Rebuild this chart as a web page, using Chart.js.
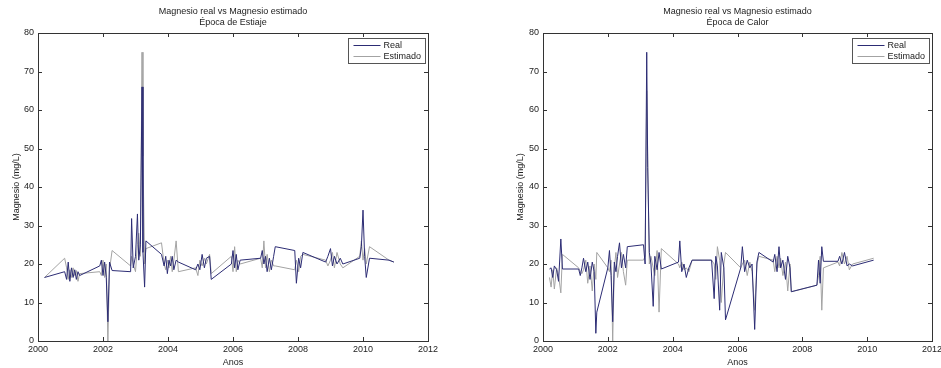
<!DOCTYPE html>
<html>
<head>
<meta charset="utf-8">
<script src="https://cdn.jsdelivr.net/npm/chart.js@4.4.1/dist/chart.umd.min.js"></script>
<style>
  html, body { margin: 0; padding: 0; background: #fff; overflow: hidden; }
  #wrap { position: relative; width: 941px; height: 368px; overflow: hidden; }
  canvas { position: absolute; top: 0; }
</style>
</head>
<body>
<div id="wrap">
  <canvas id="c1" width="470" height="368" style="left:0"></canvas>
  <canvas id="c2" width="500" height="368" style="left:470px"></canvas>
</div>
<script>
// Época de Estiaje
const estiajeAnos = [2000.20, 2000.82, 2000.88, 2000.93, 2000.98, 2001.03, 2001.08, 2001.13, 2001.18, 2001.23,
  2001.28, 2001.90, 2001.95, 2002.00, 2002.05, 2002.10, 2002.15, 2002.20, 2002.28, 2002.85,
  2002.88, 2002.93, 2003.00, 2003.06, 2003.10, 2003.15, 2003.20, 2003.23, 2003.28, 2003.32,
  2003.80, 2003.88, 2003.93, 2003.98, 2004.03, 2004.08, 2004.13, 2004.18, 2004.25, 2004.32,
  2004.85, 2004.92, 2004.98, 2005.05, 2005.12, 2005.18, 2005.28, 2005.33, 2005.95, 2006.00,
  2006.05, 2006.10, 2006.15, 2006.22, 2006.85, 2006.90, 2006.95, 2007.00, 2007.05, 2007.12,
  2007.18, 2007.25, 2007.30, 2007.90, 2007.95, 2008.02, 2008.08, 2008.15, 2008.85, 2008.92,
  2009.00, 2009.06, 2009.12, 2009.20, 2009.30, 2009.38, 2009.90, 2009.95, 2010.00, 2010.05,
  2010.10, 2010.20, 2010.80, 2010.95];
const estiajeReal = [16.5, 18.0, 16.0, 20.5, 15.5, 19.0, 16.5, 18.5, 16.0, 18.0,
  17.0, 19.5, 21.0, 17.0, 20.5, 16.5, 5.0, 20.5, 18.3, 18.0,
  31.8, 19.0, 22.0, 33.0, 21.0, 25.0, 66.0, 23.0, 14.0, 26.0,
  22.5, 19.5, 22.0, 17.5, 21.0, 19.5, 22.0, 18.5, 21.0, 20.5,
  18.5, 20.0, 18.5, 22.5, 19.0, 21.5, 22.0, 16.0, 20.0, 23.5,
  19.0, 22.5, 18.5, 21.0, 21.5, 23.5, 20.0, 22.0, 18.0, 21.5,
  18.5, 22.0, 24.5, 23.5, 15.0, 21.5, 19.0, 23.0, 20.5, 22.0,
  24.0, 19.5, 22.0, 20.0, 21.5, 20.0, 21.5, 24.5, 34.0, 22.0,
  16.5, 21.5, 21.0, 20.5];
const estiajeEstimado = [16.5, 21.5, 19.0, 16.0, 18.5, 16.5, 19.0, 17.0, 18.3, 15.5,
  17.5, 18.0, 17.0, 21.0, 16.5, 20.0, 0.0, 18.5, 23.5, 19.5,
  22.0, 20.0, 18.0, 25.0, 28.0, 22.0, 75.0, 48.0, 20.0, 24.0,
  25.5, 20.0, 18.5, 21.0, 19.0, 22.0, 18.0, 21.0, 26.0, 18.0,
  19.0, 17.0, 21.0, 19.5, 21.5, 20.0, 22.5, 17.5, 22.0, 18.0,
  24.5, 18.0, 21.0, 20.0, 21.5, 19.0, 26.0, 19.0, 22.5, 18.0,
  21.0, 19.5, 19.5, 18.5, 21.0, 18.0, 22.0, 22.5, 21.0, 19.5,
  21.0, 23.0, 19.0, 23.0, 20.0, 19.0, 22.0, 26.0, 21.0, 24.0,
  20.0, 24.5, 21.0, 20.5];

// Época de Calor
const calorAnos = [2000.20, 2000.25, 2000.30, 2000.35, 2000.42, 2000.48, 2000.55, 2000.60, 2001.10, 2001.15,
  2001.20, 2001.25, 2001.32, 2001.38, 2001.45, 2001.52, 2001.58, 2001.63, 2001.66, 2002.00,
  2002.05, 2002.10, 2002.15, 2002.20, 2002.25, 2002.30, 2002.36, 2002.42, 2002.48, 2002.55,
  2002.60, 2003.10, 2003.15, 2003.20, 2003.23, 2003.28, 2003.33, 2003.40, 2003.45, 2003.52,
  2003.58, 2003.65, 2004.18, 2004.22, 2004.28, 2004.35, 2004.42, 2004.50, 2004.60, 2005.20,
  2005.28, 2005.33, 2005.38, 2005.45, 2005.50, 2005.58, 2005.63, 2006.10, 2006.15, 2006.22,
  2006.30, 2006.38, 2006.45, 2006.53, 2006.60, 2006.66, 2007.10, 2007.15, 2007.22, 2007.28,
  2007.33, 2007.40, 2007.48, 2007.55, 2007.62, 2007.66, 2008.45, 2008.50, 2008.55, 2008.60,
  2008.65, 2009.10, 2009.15, 2009.22, 2009.30, 2009.38, 2009.45, 2009.55, 2010.20];
const calorReal = [18.7, 19.0, 16.5, 19.5, 18.5, 15.5, 26.5, 18.7, 18.7, 17.0,
  19.0, 21.5, 18.0, 20.5, 16.0, 20.5, 18.0, 2.0, 7.5, 19.0,
  23.5, 17.0, 5.0, 20.5, 18.0, 22.0, 25.5, 19.0, 22.5, 19.0,
  24.5, 25.0, 20.0, 75.0, 45.0, 23.0, 20.0, 9.0, 22.0, 18.5,
  23.0, 18.7, 20.5, 26.0, 18.0, 20.0, 16.5, 19.0, 21.0, 21.0,
  11.0, 22.0, 19.5, 8.0, 23.0, 19.0, 5.5, 19.0, 24.5, 18.0,
  21.0, 19.0, 20.0, 3.0, 20.5, 23.0, 20.5, 22.5, 18.0, 24.5,
  19.0, 21.0, 16.0, 22.0, 19.0, 12.8, 14.5, 21.0, 15.0, 24.5,
  20.7, 20.7, 22.0, 20.0, 23.0, 19.5, 20.0, 19.5, 21.0];
const calorEstimado = [16.5, 14.0, 18.5, 13.5, 19.0, 17.0, 12.5, 22.5, 19.0, 18.0,
  17.5, 18.5, 21.0, 15.0, 19.5, 13.0, 20.0, 16.0, 23.0, 19.0,
  18.0, 21.0, 0.0, 19.0, 23.0, 16.5, 20.0, 23.0, 18.0, 14.5,
  21.0, 21.0, 22.0, 65.0, 48.0, 20.0, 22.0, 19.0, 17.0, 23.5,
  7.5, 24.0, 20.0, 19.0, 20.5, 18.5, 19.0, 18.0, 21.0, 21.0,
  20.0, 16.0, 24.5, 21.0, 10.0, 20.0, 23.0, 19.0, 20.0, 21.0,
  17.0, 20.5, 18.0, 8.0, 20.0, 22.0, 21.0, 18.0, 22.0, 19.0,
  21.5, 17.0, 20.5, 13.0, 20.0, 12.8, 14.5, 17.0, 22.0, 8.0,
  19.0, 20.5, 19.5, 23.0, 20.0, 22.0, 18.5, 20.0, 21.5];

const xTicks = [2000, 2002, 2004, 2006, 2008, 2010, 2012];
const yTicks = [0, 10, 20, 30, 40, 50, 60, 70, 80];

const FONT = '"Liberation Sans", Arial, sans-serif';
const FSIZE = 9;
const REAL_COLOR = '#2c2c74';
const EST_COLOR = '#a3a3a3';

// matlab style frame: box, inward ticks, titles and legend inside the axes
const frame = {
  id: 'frame',
  afterDraw(chart, args, opts) {
    const { ctx, chartArea: a, scales } = chart;
    ctx.save();
    ctx.strokeStyle = '#333';
    ctx.lineWidth = 1;
    ctx.strokeRect(Math.round(a.left) + 0.5, Math.round(a.top) + 0.5,
      Math.round(a.right - a.left), Math.round(a.bottom - a.top));
    ctx.beginPath();
    xTicks.forEach(t => {
      const px = Math.round(scales.x.getPixelForValue(t)) + 0.5;
      ctx.moveTo(px, a.bottom); ctx.lineTo(px, a.bottom - 4);
      ctx.moveTo(px, a.top); ctx.lineTo(px, a.top + 4);
    });
    yTicks.forEach(t => {
      const py = Math.round(scales.y.getPixelForValue(t)) + 0.5;
      ctx.moveTo(a.left, py); ctx.lineTo(a.left + 4, py);
      ctx.moveTo(a.right, py); ctx.lineTo(a.right - 4, py);
    });
    ctx.stroke();

    // titles
    const cx = (a.left + a.right) / 2;
    ctx.fillStyle = '#222';
    ctx.font = FSIZE + 'px ' + FONT;
    ctx.textAlign = 'center';
    ctx.textBaseline = 'middle';
    ctx.fillText('Magnesio real vs Magnesio estimado', cx, 12);
    ctx.fillText(opts.subtitle, cx, 23);

    // legend
    const bw = 77, bh = 25;
    const bx = Math.round(a.right - 3 - bw) + 0.5, by = Math.round(a.top + 5) + 0.5;
    ctx.fillStyle = '#fff';
    ctx.fillRect(bx, by, bw, bh);
    ctx.strokeStyle = '#555';
    ctx.strokeRect(bx, by, bw, bh);
    ctx.lineWidth = 1;
    ctx.strokeStyle = REAL_COLOR;
    ctx.beginPath(); ctx.moveTo(bx + 5, by + 7); ctx.lineTo(bx + 32, by + 7); ctx.stroke();
    ctx.strokeStyle = EST_COLOR;
    ctx.beginPath(); ctx.moveTo(bx + 5, by + 18); ctx.lineTo(bx + 32, by + 18); ctx.stroke();
    ctx.fillStyle = '#222';
    ctx.textAlign = 'left';
    ctx.fillText('Real', bx + 35, by + 7);
    ctx.fillText('Estimado', bx + 35, by + 18);
    ctx.restore();
  }
};

function makeChart(id, anos, real, est, subtitle, yWidth, padRight, yTitlePad) {
  return new Chart(document.getElementById(id), {
    type: 'line',
    data: {
      datasets: [
        { label: 'Real', data: anos.map((a, i) => ({ x: a, y: real[i] })),
          borderColor: REAL_COLOR, borderWidth: 1, pointRadius: 0, tension: 0 },
        { label: 'Estimado', data: anos.map((a, i) => ({ x: a, y: est[i] })),
          borderColor: EST_COLOR, borderWidth: 1, pointRadius: 0, tension: 0 }
      ]
    },
    options: {
      responsive: false,
      animation: false,
      layout: { padding: { top: 33, right: padRight, left: 0, bottom: 0 } },
      plugins: { legend: { display: false }, tooltip: { enabled: false }, frame: { subtitle } },
      scales: {
        x: {
          type: 'linear', min: 2000, max: 2012,
          afterBuildTicks: s => { s.ticks = xTicks.map(v => ({ value: v })); },
          afterFit: s => { s.height = 27; },
          grid: { display: false, drawTicks: false, tickLength: 0 }, border: { display: false },
          ticks: { color: '#222', font: { family: FONT, size: FSIZE }, padding: 3, maxRotation: 0,
            autoSkip: false, callback: v => String(v) },
          title: { display: true, text: 'Anos', color: '#222', font: { family: FONT, size: FSIZE },
            padding: 0 }
        },
        y: {
          min: 0, max: 80,
          afterBuildTicks: s => { s.ticks = yTicks.map(v => ({ value: v })); },
          afterFit: s => { s.width = yWidth; },
          grid: { display: false, drawTicks: false, tickLength: 0 }, border: { display: false },
          ticks: { color: '#222', font: { family: FONT, size: FSIZE }, padding: 4, autoSkip: false },
          title: { display: true, text: 'Magnesio (mg/L)', color: '#222', font: { family: FONT, size: FSIZE },
            padding: { top: yTitlePad, bottom: 0 } }
        }
      }
    },
    plugins: [frame]
  });
}

makeChart('c1', estiajeAnos, estiajeReal, estiajeEstimado, 'Época de Estiaje', 38, 42, 11);
makeChart('c2', calorAnos, calorReal, calorEstimado, 'Época de Calor', 73, 38, 45);
</script>
</body>
</html>
